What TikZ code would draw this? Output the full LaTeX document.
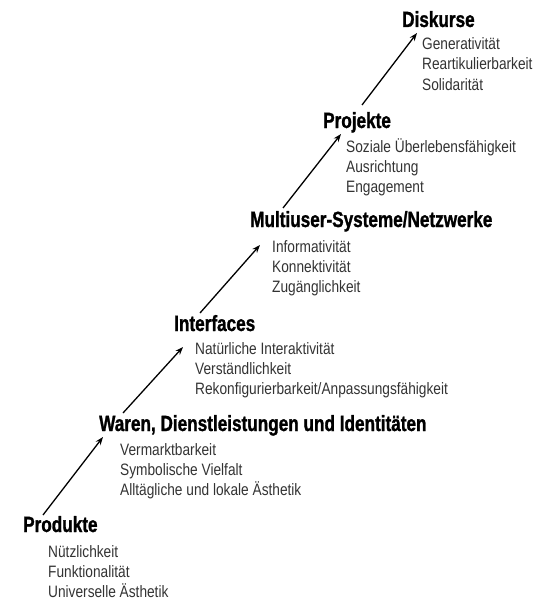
\documentclass[tikz,border=0pt]{standalone}
\usepackage{fontspec}
\setmainfont{Liberation Sans}[FakeStretch=0.83]
\newfontfamily\stagefont{Liberation Sans Bold}[FakeStretch=0.78, FakeBold=1.2]
\usetikzlibrary{arrows.meta, calc}

\begin{document}
\begin{tikzpicture}[
    x=1pt, y=-1pt,
    stage/.style={anchor=base west, inner sep=0pt, font=\fontsize{22}{24}\stagefont},
    traits/.style={anchor=base west, inner sep=0pt, align=left, text=black!80, font=\fontsize{16.5}{20}\selectfont},
    rise/.style={-{Stealth[length=8pt, width=6pt]}, line width=1.3pt}
]
\useasboundingbox (0,0) rectangle (554,602);

% stages
\node[stage] (prod) at (23,532) {Produkte};
\node[stage] (waren) at (99,431) {Waren, Dienstleistungen und Identitäten};
\node[stage] (inter) at (174,331) {Interfaces};
\node[stage] (multi) at (250,227) {Multiuser-Systeme/Netzwerke};
\node[stage] (proj) at (323,128) {Projekte};
\node[stage] (disk) at (402,27) {Diskurse};

% qualities (base = last line)
\node[traits] (prodT) at ([shift={(25,65)}]prod.base west) {Nützlichkeit\\Funktionalität\\Universelle Ästhetik};
\node[traits] (warenT) at ([shift={(21,64)}]waren.base west) {Vermarktbarkeit\\Symbolische Vielfalt\\Alltägliche und lokale Ästhetik};
\node[traits] (interT) at ([shift={(21,63)}]inter.base west) {Natürliche Interaktivität\\Verständlichkeit\\Rekonfigurierbarkeit/Anpassungsfähigkeit};
\node[traits] (multiT) at ([shift={(22,65)}]multi.base west) {Informativität\\Konnektivität\\Zugänglichkeit};
\node[traits] (projT) at ([shift={(23,64)}]proj.base west) {Soziale Überlebensfähigkeit\\Ausrichtung\\Engagement};
\node[traits] (diskT) at ([shift={(20,63)}]disk.base west) {Generativität\\Reartikulierbarkeit\\Solidarität};

% arrows
\draw[rise] ([shift={(20,-17)}]prod.base west) -- ([shift={(4,6)}]waren.base west);
\draw[rise] ([shift={(24,-18)}]waren.base west) -- ([shift={(9,16)}]inter.base west);
\draw[rise] ([shift={(26,-18)}]inter.base west) -- ([shift={(10,18)}]multi.base west);
\draw[rise] ([shift={(33,-19)}]multi.base west) -- ([shift={(18,6)}]proj.base west);
\draw[rise] ([shift={(39,-23)}]proj.base west) -- ([shift={(15,6)}]disk.base west);
\end{tikzpicture}
\end{document}
